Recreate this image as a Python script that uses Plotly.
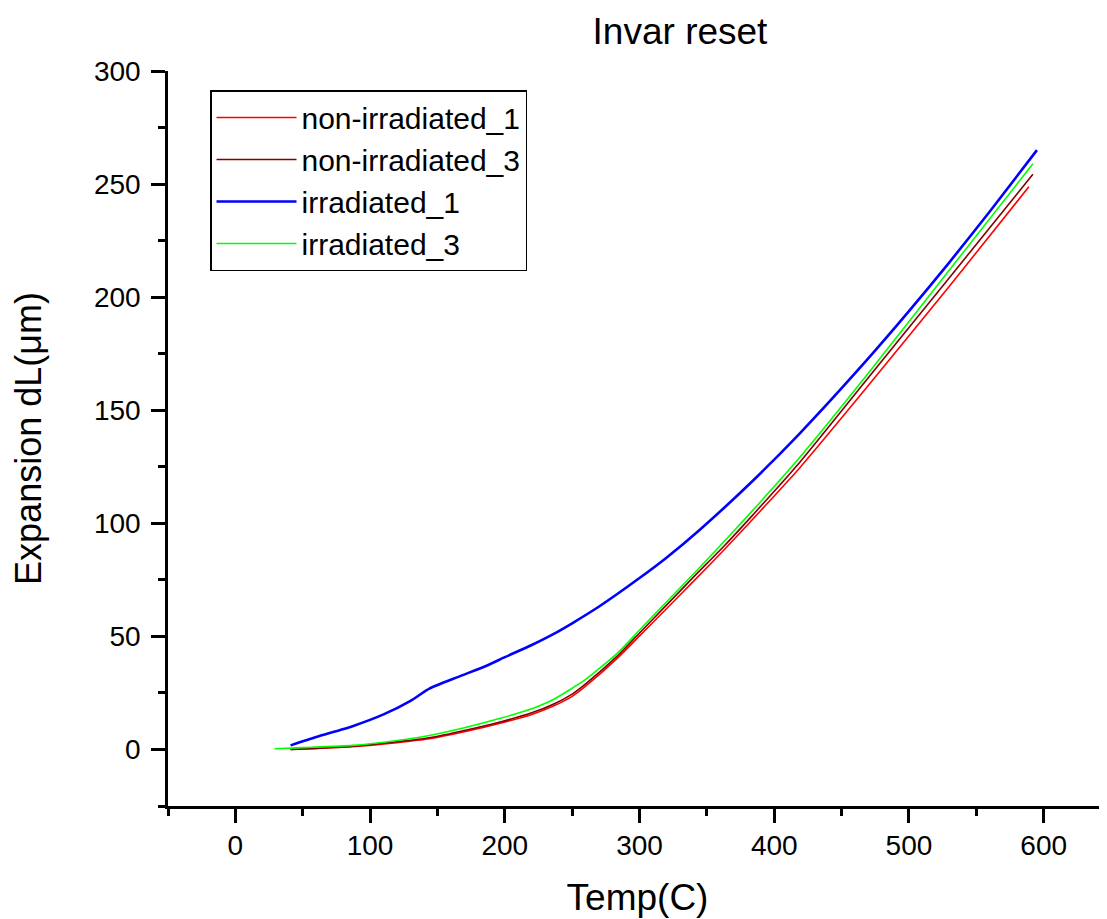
import plotly.graph_objects as go

# Data (Temp in C, expansion in um)
t_non1 = [41, 60, 87, 120, 144, 170, 198, 220, 236, 250, 260, 284, 300, 320, 340, 363, 382, 419, 468, 530, 589]
v_non1 = [0, 0.4, 1.2, 3.0, 4.7, 7.8, 11.8, 15.5, 19.2, 23.5, 28.0, 40.6, 50.2, 62.2, 74.3, 88.4, 100.5, 124.6, 159.6, 204.8, 248.8]

t_non3 = [41, 60, 87, 120, 144, 170, 198, 220, 236, 250, 260, 284, 300, 320, 340, 363, 382, 419, 468, 530, 592]
v_non3 = [0, 0.5, 1.4, 3.4, 5.2, 8.4, 12.4, 16.2, 20.0, 24.5, 29.0, 41.6, 51.5, 63.8, 76.2, 90.1, 102.3, 127.0, 163.0, 208.6, 254.3]

t_irr1 = [41, 60, 87, 110, 130, 144, 165, 186, 200, 220, 236, 250, 270, 300, 320, 345, 382, 419, 468, 500, 530, 560, 595]
v_irr1 = [1.8, 5.5, 10.3, 15.5, 21.5, 26.9, 32.0, 36.9, 40.8, 46.2, 51.0, 55.8, 63.2, 75.8, 84.8, 97.3, 117.6, 139.8, 171.7, 193.8, 215.4, 237.9, 265.0]

t_irr3 = [29, 50, 87, 120, 144, 170, 198, 220, 236, 260, 284, 300, 320, 340, 360, 382, 419, 468, 530, 592]
v_irr3 = [0.3, 0.8, 1.8, 4.0, 6.2, 9.6, 14.0, 18.0, 22.1, 31.0, 42.8, 52.8, 65.2, 77.6, 90.2, 104.4, 129.2, 165.0, 212.0, 259.0]

series = [
    ("non-irradiated_1", t_non1, v_non1, "#FF0000", 1.6),
    ("non-irradiated_3", t_non3, v_non3, "#800000", 1.6),
    ("irradiated_1", t_irr1, v_irr1, "#0000FF", 2.6),
    ("irradiated_3", t_irr3, v_irr3, "#00FF00", 1.6),
]

FONT = "Arial, 'Liberation Sans', sans-serif"

# page has an 8px body margin; figure coordinates are page coordinates minus 8
W, H = 1099, 911
L, T, B = 160, 63, 113
PW, PH = W - L, H - T - B

fig = go.Figure()
for name, t, v, color, w in series:
    fig.add_trace(go.Scatter(
        x=t, y=v, name=name, mode="lines",
        line=dict(color=color, width=w, shape="spline", smoothing=0.6),
    ))

axis_common = dict(
    showline=True, linecolor="black", linewidth=2.5,
    ticks="outside", ticklen=14, tickwidth=2.5, tickcolor="black",
    showgrid=False, zeroline=False, mirror=False, automargin=False,
    tickfont=dict(family=FONT, size=28, color="black"),
)

fig.update_layout(
    width=W, height=H,
    margin=dict(l=L, r=0, t=T, b=B),
    paper_bgcolor="white", plot_bgcolor="white",
    font=dict(family=FONT, color="black"),
    title=dict(text="Invar reset", x=(672 - L) / PW, xref="paper", xanchor="center",
               y=1 - 23 / H, yref="container", yanchor="middle",
               font=dict(family=FONT, size=37, color="black")),
    xaxis=dict(range=[-50, 647], dtick=100, tick0=0, ticklabelstandoff=-1,
               minor=dict(dtick=50, tick0=0, ticklen=7, tickwidth=2.5, tickcolor="black", ticks="outside"),
               title=dict(text="Temp(C)", font=dict(family=FONT, size=37, color="black"), standoff=24),
               **axis_common),
    yaxis=dict(range=[-25, 300], dtick=50, tick0=0, ticklabelstandoff=5,
               minor=dict(dtick=25, tick0=0, ticklen=7, tickwidth=2.5, tickcolor="black", ticks="outside"),
               title=dict(text="Expansion dL(\u03bcm)", font=dict(family=FONT, size=36, color="black"), standoff=50),
               **axis_common),
    legend=dict(x=(202 - L) / PW, y=1 - (82 - T) / PH, xanchor="left", yanchor="top",
                bordercolor="black", borderwidth=1.5, bgcolor="white",
                font=dict(family=FONT, size=30, color="black"),
                itemwidth=80, tracegroupgap=0),
    showlegend=True,
)

fig.write_html("out.html")
